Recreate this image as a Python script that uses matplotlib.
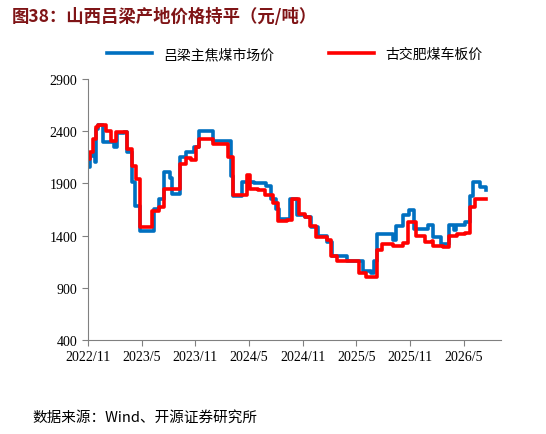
import matplotlib
matplotlib.use("Agg")
import matplotlib.pyplot as plt

plt.rcParams['font.family'] = ['Noto Sans CJK SC', 'DejaVu Sans']

# months since 2022/11
blue_x = [0,0.22,0.57,0.75,0.93,1.11,1.72,2.73,2.91,3.27,3.98,4.34,4.88,5.24,5.78,7.03,7.39,7.93,8.47,9.19,9.37,10.08,10.26,10.98,11.88,12.42,13.85,14.03,15.28,16.0,16.18,17.26,18.51,19.95,20.49,21.03,21.38,22.64,23.36,24.25,24.97,25.69,26.77,27.3,28.56,28.92,29.99,30.71,31.6,31.97,32.33,33.76,34.12,34.48,35.2,35.92,36.45,38.07,38.61,39.5,40.4,40.94,41.12,42.2,42.73,43.09,43.81,44.53]
blue_y = [2057,2165,2200,2105,2420,2460,2300,2300,2250,2380,2390,2200,1913,1685,1445,1445,1655,1750,2010,1950,1800,1800,2150,2200,2250,2400,2400,2310,2310,1970,1780,1910,1900,1880,1750,1655,1560,1750,1600,1580,1480,1400,1340,1205,1205,1160,1160,1060,1045,1160,1415,1415,1355,1490,1600,1650,1460,1505,1385,1320,1505,1450,1505,1530,1780,1915,1870,1840]
red_x = [0,0.22,0.57,0.93,1.11,2.0,2.55,3.09,3.98,4.34,4.88,5.42,5.78,7.21,7.93,8.47,10.08,10.26,10.98,11.52,12.06,12.42,14.03,15.28,15.64,16.18,17.62,17.8,18.15,19.05,19.77,20.67,21.2,21.74,22.28,22.82,23.54,24.25,24.79,25.51,26.77,27.13,27.84,29.81,30.35,31.07,31.97,32.33,32.87,34.12,35.2,35.74,36.45,36.63,37.71,38.43,38.61,39.68,40.4,41.3,42.2,42.73,43.27,44.53]
red_y = [2130,2200,2325,2440,2460,2400,2310,2390,2390,2230,2070,1940,1480,1640,1670,1850,1850,2090,2140,2120,2250,2325,2280,2280,2150,1785,1785,1980,1850,1840,1790,1710,1545,1545,1550,1750,1610,1580,1495,1385,1355,1205,1160,1160,1045,1000,1000,1265,1320,1300,1330,1530,1530,1400,1340,1350,1300,1290,1400,1415,1430,1670,1755,1755]
xtick_pos = [0,6,12,18,24,30,36,42]
xtick_labels = ['2022/11','2023/5','2023/11','2024/5','2024/11','2025/5','2025/11','2026/5']
yticks = [400,900,1400,1900,2400,2900]

fig = plt.figure(figsize=(5.46,4.35), dpi=100)
ax = fig.add_axes([0.161,0.216,0.757,0.6])
ax.plot(blue_x, blue_y, drawstyle='steps-post', color='#0070C0', lw=2.6, label='吕梁主焦煤市场价')
ax.plot(red_x, red_y, drawstyle='steps-post', color='#FF0000', lw=2.6, label='古交肥煤车板价')
ax.set_xlim(0, 46.2)
ax.set_ylim(400, 2900)
ax.set_yticks(yticks)
ax.set_xticks(xtick_pos)
ax.set_xticklabels(xtick_labels, family=['Times New Roman','Liberation Serif'])
ax.set_yticklabels([str(v) for v in yticks], family=['Times New Roman','Liberation Serif'])
ax.tick_params(labelsize=10, direction='out', length=4, color='#808080')
for s in ['top','right']:
    ax.spines[s].set_visible(False)
for s in ['left','bottom']:
    ax.spines[s].set_color('#808080')
ax.legend(loc='lower center', bbox_to_anchor=(0.5,1.02), ncol=2, frameon=False, fontsize=10, handlelength=3.2, columnspacing=4)
fig.text(0.022,0.96,'图38：山西吕梁产地价格持平（元/吨）', fontsize=12.5, fontweight='bold', color='#7F1416', va='center')
fig.text(0.06,0.04,'数据来源：Wind、开源证券研究所', fontsize=10.5, va='center')
fig.savefig('out.png', dpi=100)
